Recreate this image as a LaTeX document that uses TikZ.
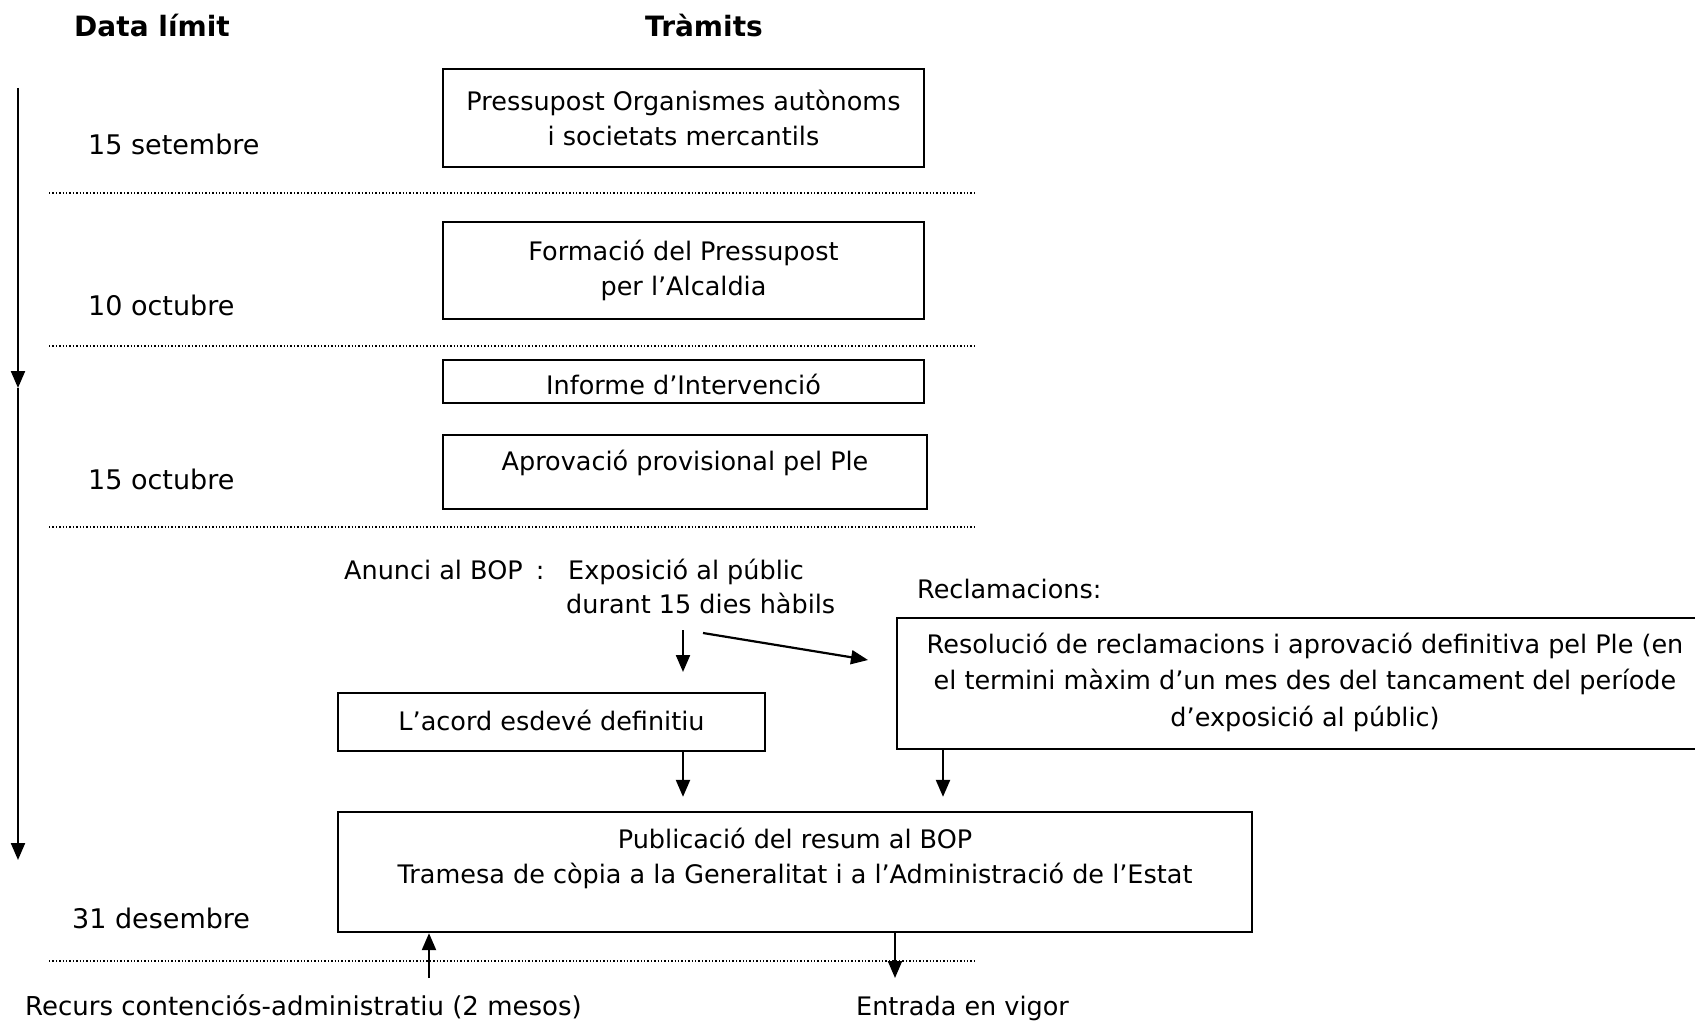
\documentclass[tikz,border=0pt]{standalone}
\usepackage{fontspec}
\setmainfont{DejaVu Sans}
\usetikzlibrary{arrows.meta}
\begin{document}
\begin{tikzpicture}[x=1pt,y=-1pt,
  box/.style={draw,line width=2.3pt,inner sep=0pt},
  txt/.style={font=\fontsize{25.5}{35}\selectfont,inner sep=0pt,align=center},
  lbl/.style={font=\fontsize{25.5}{35}\selectfont,inner sep=0pt,anchor=base west},
  datelbl/.style={font=\fontsize{27}{33}\selectfont,inner sep=0pt,anchor=base west},
  head/.style={font=\bfseries\fontsize{28}{33}\selectfont,inner sep=0pt,anchor=base},
  sep/.style={line width=1.3pt,dash pattern=on 1.3pt off 2.1pt},
  arr/.style={line width=2.2pt,-{Triangle[length=17pt,width=14pt]}},
]
\useasboundingbox (0,0) rectangle (1695,1022);
\clip (0,0) rectangle (1695,1022);

% headings
\node[head] (h1) at (152,37) {Data límit};
\node[head] (h2) at (704,37) {Tràmits};

% timeline
\coordinate (t0) at (18,88);
\coordinate (t1) at (18,388);
\coordinate (t2) at (18,860);
\draw[arr] (t0) -- (t1);
\draw[arr] (t1) -- (t2);

% separators
\draw[sep] (49,193) -- (975,193);
\draw[sep] (49,346) -- (975,346);
\draw[sep] (49,527) -- (975,527);
\draw[sep] (49,961) -- (975,961);

% dates
\node[datelbl] (d1) at (88,155) {15 setembre};
\node[datelbl] (d2) at (88,315) {10 octubre};
\node[datelbl] (d3) at (88,489) {15 octubre};
\node[datelbl] (d4) at (72,928) {31 desembre};

% boxes
\node[box,minimum width=481pt,minimum height=98pt] (b1) at (683.5,118) {};
\node[txt] (b1t) at (683.5,118) {Pressupost Organismes autònoms\\i societats mercantils};
\node[box,minimum width=481pt,minimum height=97pt] (b2) at (683.5,270.5) {};
\node[txt] (b2t) at (683.5,270) {Formació del Pressupost\\per l’Alcaldia};
\node[box,minimum width=481pt,minimum height=43pt] (b3) at (683.5,381.5) {};
\node[txt] (b3t) at (683.5,384) {Informe d’Intervenció};
\node[box,minimum width=484pt,minimum height=74pt] (b4) at (685,472) {};
\node[txt] (b4t) at (685,463) {Aprovació provisional pel Ple};

% announcement
\node[lbl] (anunci) at (344,579) {Anunci al BOP\hspace{5pt} :};
\node[lbl] (expo1) at (568,579) {Exposició al públic};
\node[lbl] (expo2) at (566,613) {durant 15 dies hàbils};
\node[lbl] (recl) at (917,598) {Reclamacions:};

\coordinate (a0) at (683,630);
\coordinate (a1) at (683,672);
\coordinate (a2) at (703,633);
\coordinate (a3) at (868,660);
\draw[arr] (a0) -- (a1);
\draw[arr] (a2) -- (a3);

\node[box,minimum width=427pt,minimum height=58pt] (acord) at (551.5,722) {};
\node[txt] (acordt) at (551.5,720) {L’acord esdevé definitiu};

\node[box,minimum width=816pt,minimum height=131pt] (res) at (1305,683.5) {};
\node[txt,font=\fontsize{25.5}{36.5}\selectfont] (rest) at (1305,682) {Resolució de reclamacions i aprovació definitiva pel Ple (en\\el termini màxim d’un mes des del tancament del període\\d’exposició al públic)};

\node[box,minimum width=914pt,minimum height=120pt] (pub) at (795,872) {};
\node[txt] (pubt) at (795,858) {Publicació del resum al BOP\\Tramesa de còpia a la Generalitat i a l’Administració de l’Estat};

\coordinate (c1) at (683,0);
\coordinate (c2) at (943,0);
\draw[arr,shorten >=14pt] (acord.south -| c1) -- (pub.north -| c1);
\draw[arr,shorten >=14pt] (res.south -| c2) -- (pub.north -| c2);

\coordinate (c3) at (429,978);
\coordinate (c4) at (895,978);
\draw[arr] (c3) -- (pub.south -| c3);
\draw[arr] (pub.south -| c4) -- (c4);

\node[lbl,font=\fontsize{26}{35}\selectfont] (recurs) at (25,1015) {Recurs contenciós-administratiu (2 mesos)};
\node[lbl] (entrada) at (856,1015) {Entrada en vigor};
\end{tikzpicture}
\end{document}
